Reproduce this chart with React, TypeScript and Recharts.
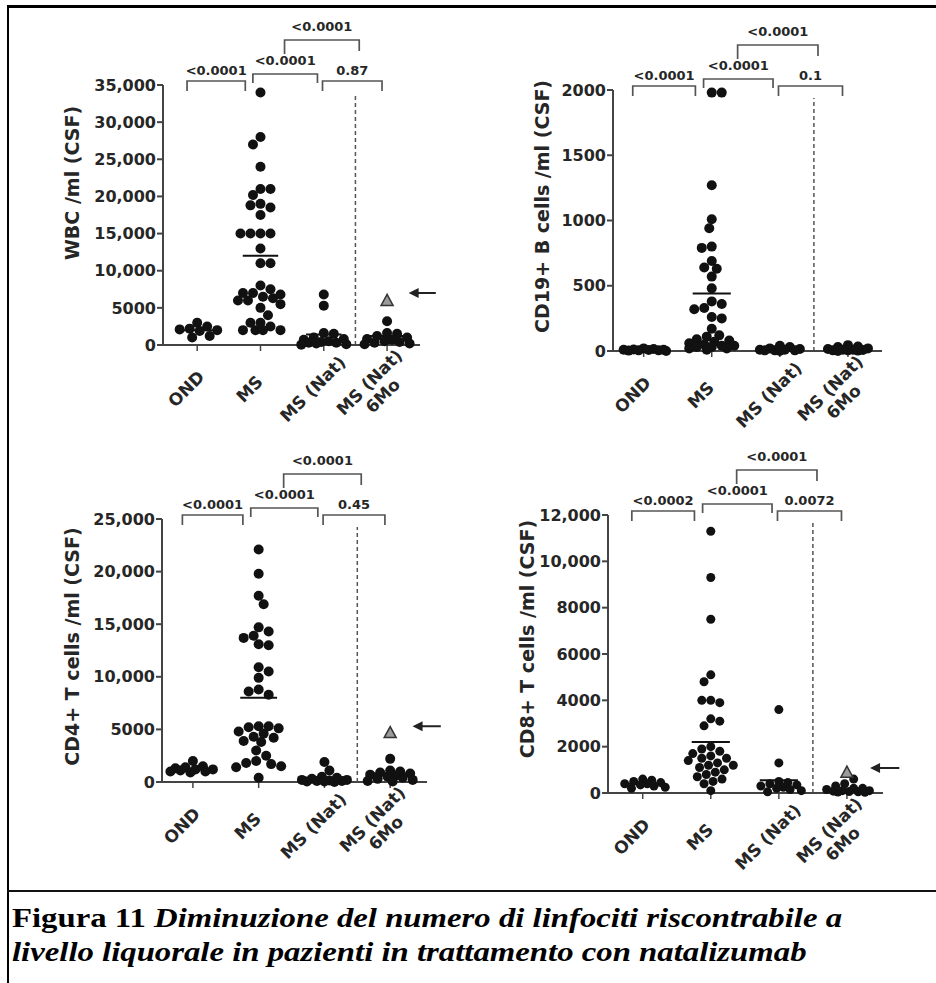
import React from "react";
import { ScatterChart, Scatter, XAxis, YAxis, ReferenceLine, Label } from "recharts";

const categories = ["OND", "MS", "MS (Nat)", "MS (Nat)\n6Mo"];

// WBC /ml (CSF)
const wbcOND = [3000, 2500, 2200, 2100, 2000, 1900, 1200, 1000];
const wbcMS = [34000, 28000, 27000, 24000, 21000, 21000, 20200, 19000, 18800, 18500, 17500, 15000, 15000, 15000, 15000, 13000, 11000, 11000, 8000, 7500, 7000, 7000, 6800, 6500, 6300, 6000, 6000, 5500, 5000, 4000, 3000, 3000, 2500, 2000, 2000, 2000, 2000];
const wbcNat = [6800, 5300, 1600, 1500, 1000, 800, 700, 500, 400, 300, 300, 200, 100, 50];
const wbc6Mo = [3200, 1600, 1500, 1200, 1000, 800, 700, 500, 400, 300, 200, 100];
const wbcOutlier = 6000;
const wbcArrow = 7000;
const wbcMeans = [2000, 12000, 1400, 1200];
const wbcP = ["<0.0001", "<0.0001", "0.87", "<0.0001"];
const wbcTicks = [0, 5000, 10000, 15000, 20000, 25000, 30000, 35000];

// CD19+ B cells /ml (CSF)
const cd19OND = [20, 15, 12, 10, 10, 8, 5, 5, 3, 0];
const cd19MS = [1980, 1980, 1270, 1010, 940, 800, 790, 690, 640, 630, 570, 480, 380, 360, 330, 320, 260, 250, 170, 120, 110, 90, 80, 70, 60, 50, 40, 40, 30, 30, 20, 20, 10];
const cd19Nat = [40, 30, 20, 15, 10, 10, 5, 5, 5, 0];
const cd196Mo = [45, 35, 30, 20, 15, 10, 10, 8, 5, 5, 3, 0];
const cd19Means = [10, 440, 15, 15];
const cd19P = ["<0.0001", "<0.0001", "0.1", "<0.0001"];
const cd19Ticks = [0, 500, 1000, 1500, 2000];

// CD4+ T cells /ml (CSF)
const cd4OND = [2000, 1500, 1400, 1300, 1200, 1200, 1100, 1000, 1000, 900];
const cd4MS = [22100, 19800, 17700, 16900, 14700, 14300, 13900, 13700, 13100, 13000, 10900, 10500, 9900, 8800, 8600, 8300, 5300, 5300, 5200, 5100, 4800, 4600, 4300, 4200, 3900, 3800, 3000, 2500, 2000, 1800, 1700, 1500, 1400, 400];
const cd4Nat = [1900, 1100, 500, 400, 300, 200, 200, 150, 100, 100, 50, 50, 0];
const cd46Mo = [2200, 1100, 1000, 900, 800, 700, 600, 500, 400, 300, 200, 100, 50];
const cd4Outlier = 4700;
const cd4Arrow = 5300;
const cd4Means = [1200, 8000, 300, 800];
const cd4P = ["<0.0001", "<0.0001", "0.45", "<0.0001"];
const cd4Ticks = [0, 5000, 10000, 15000, 20000, 25000];

// CD8+ T cells /ml (CSF)
const cd8OND = [600, 550, 500, 450, 400, 400, 350, 300, 250, 200];
const cd8MS = [11300, 9300, 7500, 5100, 4800, 4000, 4000, 3900, 3200, 3100, 2900, 2000, 1900, 1800, 1700, 1600, 1500, 1500, 1400, 1300, 1200, 1200, 1100, 1000, 900, 800, 700, 600, 500, 400, 100];
const cd8Nat = [3600, 1300, 500, 450, 400, 350, 300, 250, 200, 150, 100, 50];
const cd86Mo = [600, 400, 300, 200, 200, 150, 100, 100, 80, 60, 50, 40, 30];
const cd8Outlier = 900;
const cd8Arrow = 1080;
const cd8Means = [400, 2200, 550, 150];
const cd8P = ["<0.0002", "<0.0001", "0.0072", "<0.0001"];
const cd8Ticks = [0, 2000, 4000, 6000, 8000, 10000, 12000];

// bracket layout: x range in category units, bar height above plot top (px), legs (px), label gap (px)
const brackets = [
  { x1: -0.16, x2: 0.76, top: 4, legL: 10, legR: 10, gap: 6 },
  { x1: 0.88, x2: 1.9, top: 11, legL: 9, legR: 9, gap: 9 },
  { x1: 1.98, x2: 2.92, top: 4, legL: 10, legR: 10, gap: 6 },
  { x1: 1.38, x2: 2.56, top: 45, legL: 14, legR: 11, gap: 9 },
];

const INK = "#262626";
const FONT = "'DejaVu Sans', Arial, sans-serif";

// simple beeswarm: horizontal offsets (px) so dots don't overlap
function swarm(vals: number[], r: number, pxY: number, maxOff: number) {
  const order = vals.map((v, k) => ({ v, k })).sort((a, b) => b.v - a.v);
  const placed: { x: number; y: number }[] = [];
  const off = new Array(vals.length).fill(0);
  const need = 2 * r * 0.92;
  const step = r * 0.5;
  for (const { v, k } of order) {
    const y = v * pxY;
    let bestX = 0;
    let bestD = -1;
    let done = false;
    for (let s = 0; s * step <= maxOff && !done; s++) {
      const cands = s === 0 ? [0] : placed.length % 2 ? [s * step, -s * step] : [-s * step, s * step];
      for (const cx of cands) {
        let d = Infinity;
        for (const q of placed) d = Math.min(d, Math.hypot(q.x - cx, q.y - y));
        if (d >= need) {
          bestX = cx;
          done = true;
          break;
        }
        if (d > bestD) {
          bestD = d;
          bestX = cx;
        }
      }
    }
    placed.push({ x: bestX, y });
    off[k] = bestX;
  }
  return off;
}

const fmt = (v: number) => (v >= 10000 ? v.toLocaleString("en-US") : String(v));

const CatTick = (props: any) => {
  const { x, y, payload } = props;
  const lines = categories[payload.value].split("\n");
  const lh = 19;
  const first = -((lines.length - 1) * lh) / 2;
  return (
    <g transform={`translate(${x - 11},${y + 36}) rotate(-45)`}>
      <text textAnchor="middle" fill={INK} fontSize={17} fontWeight={700} fontFamily={FONT}>
        {lines.map((l, i) => (
          <tspan key={i} x={0} y={first + i * lh} dy="0.35em">
            {l}
          </tspan>
        ))}
      </text>
    </g>
  );
};

type PanelProps = {
  left: number;
  top: number;
  w: number;
  h: number;
  xDomain: [number, number];
  yMax: number;
  yTicks: number[];
  yLabel: string;
  labelDx: number;
  labelDy: number;
  groups: number[][];
  means: number[];
  pValues: string[];
  outlier?: number;
  arrow?: number;
  r: number;
};

function Panel(p: PanelProps) {
  const ML = 170, MT = 100, MR = 50, MB = 120, YW = 70, XH = 90;
  const W = p.w + ML + MR;
  const H = p.h + MT + MB;
  const pxX = p.w / (p.xDomain[1] - p.xDomain[0]);
  const pxY = p.h / p.yMax;
  const up = (px: number) => p.yMax + px / pxY;

  const dots: { x: number; y: number }[] = [];
  const tri: { x: number; y: number }[] = [];
  p.groups.forEach((vals, i) => {
    const withOut = i === 3 && p.outlier !== undefined ? [...vals, p.outlier] : vals;
    const off = swarm(withOut, p.r, pxY, 24);
    withOut.forEach((v, k) => {
      const pt = { x: i + off[k] / pxX, y: v };
      if (k >= vals.length) tri.push(pt);
      else dots.push(pt);
    });
  });

  return (
    <div style={{ position: "absolute", left: p.left - ML, top: p.top - MT }}>
      <ScatterChart width={W} height={H} margin={{ top: MT, right: MR, left: ML - YW, bottom: MB - XH }}>
        <XAxis
          type="number"
          dataKey="x"
          domain={p.xDomain}
          ticks={[0, 1, 2, 3]}
          interval={0}
          height={XH}
          tickSize={6}
          axisLine={{ stroke: "#444", strokeWidth: 2 }}
          tickLine={{ stroke: "#444", strokeWidth: 1.5 }}
          tick={(tp: any) => <CatTick {...tp} />}
        />
        <YAxis
          type="number"
          dataKey="y"
          domain={[0, p.yMax]}
          ticks={p.yTicks}
          interval={0}
          width={YW}
          tickSize={6}
          tickMargin={1}
          tickFormatter={fmt}
          axisLine={{ stroke: "#444", strokeWidth: 2 }}
          tickLine={{ stroke: "#444", strokeWidth: 2 }}
          tick={{ fill: INK, fontSize: 16, fontWeight: 700, fontFamily: FONT }}
        >
          <Label
            content={(lp: any) => {
              const vb = lp.viewBox;
              const cx = vb.x + vb.width - p.labelDx;
              const cy = vb.y + vb.height / 2 + p.labelDy;
              return (
                <text
                  transform={`translate(${cx},${cy}) rotate(-90)`}
                  textAnchor="middle"
                  dominantBaseline="central"
                  fill={INK}
                  fontSize={19}
                  fontWeight={700}
                  fontFamily={FONT}
                >
                  {p.yLabel}
                </text>
              );
            }}
          />
        </YAxis>

        {/* dashed separator between MS (Nat) and 6Mo */}
        <ReferenceLine
          segment={[{ x: 2.5, y: 0 }, { x: 2.5, y: up(-8) }]}
          stroke="#555"
          strokeWidth={1.5}
          strokeDasharray="4 3"
          ifOverflow="visible"
        />

        {brackets.map((b, i) => (
          <ReferenceLine
            key={"b" + i}
            segment={[{ x: b.x1, y: up(b.top) }, { x: b.x2, y: up(b.top) }]}
            ifOverflow="visible"
            shape={(s: any) => (
              <g>
                <path
                  d={`M${s.x1},${s.y1 + b.legL} V${s.y1} H${s.x2} V${s.y2 + b.legR}`}
                  fill="none"
                  stroke="#555"
                  strokeWidth={1.7}
                />
                <text
                  x={(s.x1 + s.x2) / 2}
                  y={s.y1 - b.gap}
                  textAnchor="middle"
                  fill={INK}
                  fontSize={13}
                  fontWeight={700}
                  fontFamily={FONT}
                >
                  {p.pValues[i]}
                </text>
              </g>
            )}
          />
        ))}

        {p.means.map((m, i) => (
          <ReferenceLine
            key={"m" + i}
            segment={[{ x: i - 0.28, y: m }, { x: i + 0.28, y: m }]}
            stroke="#111"
            strokeWidth={2}
            ifOverflow="visible"
          />
        ))}

        {p.arrow !== undefined && (
          <ReferenceLine
            segment={[{ x: 3.34, y: p.arrow }, { x: 3.77, y: p.arrow }]}
            ifOverflow="visible"
            shape={(s: any) => (
              <g>
                <line x1={s.x1 + 6} y1={s.y1} x2={s.x2} y2={s.y2} stroke="#222" strokeWidth={2} />
                <polygon points={`${s.x1},${s.y1} ${s.x1 + 10},${s.y1 - 5} ${s.x1 + 10},${s.y1 + 5}`} fill="#222" />
              </g>
            )}
          />
        )}

        <Scatter
          data={dots}
          isAnimationActive={false}
          shape={(sp: any) => <circle cx={sp.cx} cy={sp.cy} r={p.r} fill="#111" />}
        />
        {tri.length > 0 && (
          <Scatter
            data={tri}
            isAnimationActive={false}
            shape={(sp: any) => (
              <polygon
                points={`${sp.cx},${sp.cy - 6} ${sp.cx - 6},${sp.cy + 5} ${sp.cx + 6},${sp.cy + 5}`}
                fill="#9a9a9a"
                stroke="#333"
                strokeWidth={1.5}
              />
            )}
          />
        )}
      </ScatterChart>
    </div>
  );
}

export default function App() {
  return (
    <div style={{ position: "absolute", left: 0, top: 0, width: 936, height: 983, background: "#fff", overflow: "hidden" }}>
      {/* frame */}
      <div style={{ position: "absolute", left: 7, top: 5, width: 929, height: 3, background: "#000" }} />
      <div style={{ position: "absolute", left: 7, top: 5, width: 2, height: 978, background: "#000" }} />
      <div style={{ position: "absolute", left: 7, top: 890, width: 929, height: 2, background: "#111" }} />

      <Panel
        left={163}
        top={85}
        w={257}
        h={260}
        xDomain={[-0.54, 3.52]}
        yMax={35000}
        yTicks={wbcTicks}
        yLabel="WBC /ml (CSF)"
        labelDx={91}
        labelDy={-32}
        groups={[wbcOND, wbcMS, wbcNat, wbc6Mo]}
        means={wbcMeans}
        pValues={wbcP}
        outlier={wbcOutlier}
        arrow={wbcArrow}
        r={5}
      />
      <Panel
        left={613}
        top={90}
        w={269}
        h={261}
        xDomain={[-0.45, 3.5]}
        yMax={2000}
        yTicks={cd19Ticks}
        yLabel="CD19+ B cells /ml (CSF)"
        labelDx={71}
        labelDy={-14}
        groups={[cd19OND, cd19MS, cd19Nat, cd196Mo]}
        means={cd19Means}
        pValues={cd19P}
        r={5}
      />
      <Panel
        left={162}
        top={519}
        w={265}
        h={263}
        xDomain={[-0.47, 3.56]}
        yMax={25000}
        yTicks={cd4Ticks}
        yLabel="CD4+ T cells /ml (CSF)"
        labelDx={90}
        labelDy={-4}
        groups={[cd4OND, cd4MS, cd4Nat, cd46Mo]}
        means={cd4Means}
        pValues={cd4P}
        outlier={cd4Outlier}
        arrow={cd4Arrow}
        r={5}
      />
      <Panel
        left={608}
        top={515}
        w={275}
        h={278}
        xDomain={[-0.51, 3.53]}
        yMax={12000}
        yTicks={cd8Ticks}
        yLabel="CD8+ T cells /ml (CSF)"
        labelDx={81}
        labelDy={-15}
        groups={[cd8OND, cd8MS, cd8Nat, cd86Mo]}
        means={cd8Means}
        pValues={cd8P}
        outlier={cd8Outlier}
        arrow={cd8Arrow}
        r={4.5}
      />

      <div
        style={{
          position: "absolute",
          left: 12,
          top: 901,
          fontFamily: "'Liberation Serif', 'Times New Roman', serif",
          fontSize: 28,
          lineHeight: "34px",
          fontWeight: 700,
          color: "#000",
          whiteSpace: "nowrap",
          transform: "scaleX(1.17)",
          transformOrigin: "0 0",
        }}
      >
        Figura 11 <i>Diminuzione del numero di linfociti riscontrabile a</i>
        <br />
        <i>livello liquorale in pazienti in trattamento con natalizumab</i>
      </div>
    </div>
  );
}
